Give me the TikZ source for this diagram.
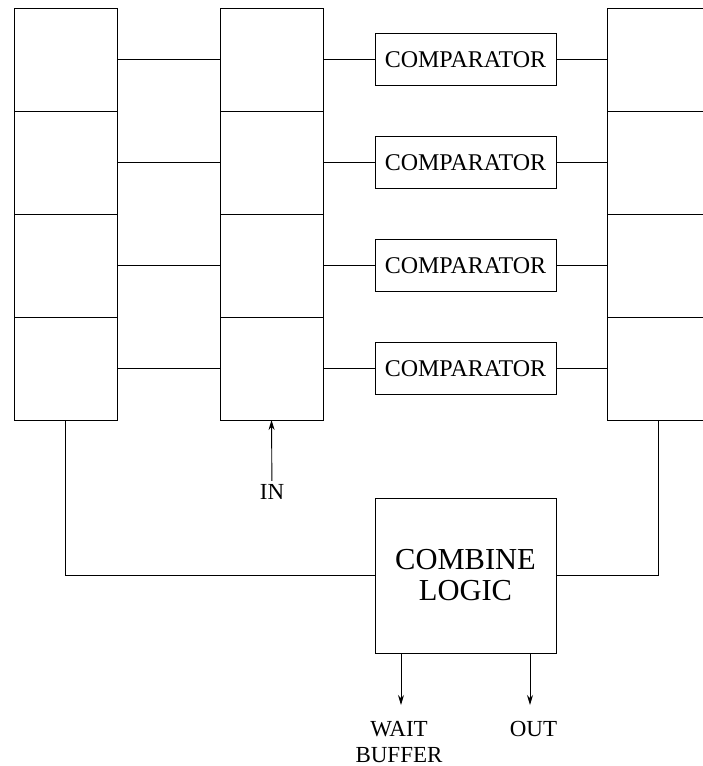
\documentclass[tikz,border=0pt]{standalone}
\usepackage{fontspec}
\setmainfont{Liberation Serif}
\usetikzlibrary{arrows.meta,positioning,calc}

\begin{document}
\begin{tikzpicture}[
    x=1pt, y=-1pt,
    cell/.style={rectangle, draw, line width=0.9pt, minimum width=103pt, minimum height=103pt, inner sep=0pt, outer sep=0pt},
    cmp/.style={rectangle, draw, line width=0.9pt, minimum width=181pt, minimum height=52pt, inner sep=0pt, outer sep=0pt, font=\fontsize{24}{28}\selectfont},
    logic/.style={rectangle, draw, line width=0.9pt, minimum width=181pt, minimum height=155pt, inner sep=0pt, outer sep=0pt, align=center, font=\fontsize{30.5}{31}\selectfont},
    lbl/.style={align=center, font=\fontsize{23}{26}\selectfont},
    wire/.style={line width=0.9pt},
    arrow/.style={-{Stealth[length=10pt,width=6pt]}, line width=0.9pt}
]
    \useasboundingbox (0,0) rectangle (703,766);
    \clip (0,0) rectangle (703,766);

    % register columns and comparators
    \foreach \i in {1,...,4} {
        \node [cell] (L\i) at (65.5, {59.5+103*(\i-1)}) {};
        \node [cell] (M\i) at (271.5, {59.5+103*(\i-1)}) {};
        \node [cell] (R\i) at (658.5, {59.5+103*(\i-1)}) {};
        \node [cmp] (C\i) at (465.5, {59.5+103*(\i-1)}) {COMPARATOR};
        \draw [wire] (L\i.east) -- (M\i.west);
        \draw [wire] (M\i.east) -- (C\i.west);
        \draw [wire] (C\i.east) -- (R\i.west);
    }

    \node [logic] (logic) at (465.5, 575.5) {COMBINE\\LOGIC};
    \draw [wire] (L4.south) |- (logic.west);
    \draw [wire] (R4.south) |- (logic.east);

    % input and outputs
    \node [lbl] (in) at (272, 492) {IN};
    \draw [arrow] (in) -- (M4.south);

    \node [lbl] (wait) at (399, 742) {WAIT\\BUFFER};
    \node [lbl] (out) at (533.5, 729) {OUT};
    \coordinate (waitend) at (401, 705);
    \coordinate (outend) at (530, 705);
    \draw [arrow] (logic.south -| waitend) -- (waitend);
    \draw [arrow] (logic.south -| outend) -- (outend);
\end{tikzpicture}
\end{document}
